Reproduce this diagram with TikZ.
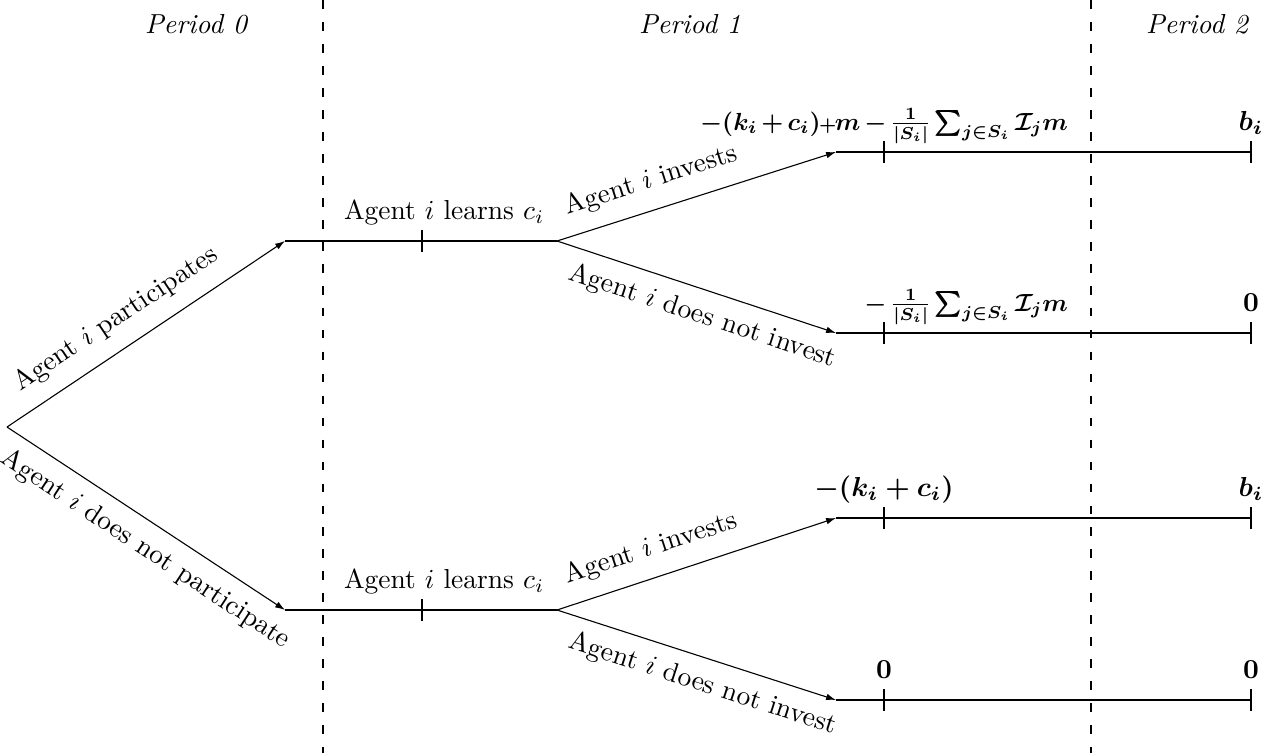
\documentclass[tikz,border=0pt]{standalone}
\usepackage{amsmath,amssymb,graphicx}
\usetikzlibrary{arrows.meta}
\newcommand{\bmath}[1]{{\boldmath$#1$}}
\newcommand{\bsum}{\mathop{\pmb{\sum}}}
\begin{document}
\begin{tikzpicture}[x=0.364pt,y=-0.364pt,
  edge/.style={-{Latex[length=3.6pt,width=2.4pt]}},
  lab/.style={anchor=south, inner sep=0pt, outer sep=0pt, text depth=8pt},
  slab/.style={anchor=south, inner sep=0pt, outer sep=0pt, text depth=8pt, sloped},
  slabb/.style={anchor=north, inner sep=0pt, outer sep=0pt, text height=12pt, sloped},
  period/.style={anchor=base, inner sep=0pt, outer sep=0pt, font=\itshape},
  divider/.style={dash pattern=on 3.2pt off 4.8pt}]
\useasboundingbox (0,0) rectangle (1285,753);
% period dividers
\coordinate (d1t) at (323,0);   \coordinate (d1b) at (323,753);
\coordinate (d2t) at (1091,0);  \coordinate (d2b) at (1091,753);
\draw[divider] (d1t) -- (d1b);
\draw[divider] (d2t) -- (d2b);
\node[period] (per0) at (196,33) {Period 0};
\node[period] (per1) at (690,33) {Period 1};
\node[period] (per2) at (1197,33) {Period 2};
% tree points
\coordinate (root) at (7,427);
\coordinate (P)  at (285,241);
\coordinate (NP) at (285,610);
\coordinate (PE) at (557,241);
\coordinate (NPE) at (557,610);
\coordinate (A1) at (836,152);
\coordinate (A2) at (836,333);
\coordinate (A3) at (836,518);
\coordinate (A4) at (836,700);
\coordinate (F1) at (1251,152);
\coordinate (F2) at (1251,333);
\coordinate (F3) at (1251,518);
\coordinate (F4) at (1251,700);
\coordinate (TP) at (422,241);
\coordinate (TNP) at (422,610);
\coordinate (T1) at (884,152);
\coordinate (T2) at (884,333);
\coordinate (T3) at (884,518);
\coordinate (T4) at (884,700);
% branches
\draw[edge] (root) -- node[slab, pos=0.45] {Agent $i$ participates} (P);
\draw[edge] (root) -- node[slabb, pos=0.55] {Agent $i$ does not participate} (NP);
\draw (P) -- node[lab, pos=0.585] {Agent $i$ learns $c_i$} (PE);
\draw (NP) -- node[lab, pos=0.585] {Agent $i$ learns $c_i$} (NPE);
\draw[edge] (PE) -- node[slab, pos=0.37] {Agent $i$ invests} (A1);
\draw[edge] (PE) -- node[slabb, pos=0.55] {Agent $i$ does not invest} (A2);
\draw[edge] (NPE) -- node[slab, pos=0.37] {Agent $i$ invests} (A3);
\draw[edge] (NPE) -- node[slabb, pos=0.55] {Agent $i$ does not invest} (A4);
\draw (A1) -- (F1);
\draw (A2) -- (F2);
\draw (A3) -- (F3);
\draw (A4) -- (F4);
% ticks
\draw ([yshift=4pt]TP) -- ([yshift=-4pt]TP);
\draw ([yshift=4pt]TNP) -- ([yshift=-4pt]TNP);
\draw ([yshift=4pt]T1) -- ([yshift=-4pt]T1);
\draw ([yshift=4pt]T2) -- ([yshift=-4pt]T2);
\draw ([yshift=4pt]T3) -- ([yshift=-4pt]T3);
\draw ([yshift=4pt]T4) -- ([yshift=-4pt]T4);
\draw ([yshift=4pt]F1) -- ([yshift=-4pt]F1);
\draw ([yshift=4pt]F2) -- ([yshift=-4pt]F2);
\draw ([yshift=4pt]F3) -- ([yshift=-4pt]F3);
\draw ([yshift=4pt]F4) -- ([yshift=-4pt]F4);
% payoffs
\node[lab] (p1) at (T1) {\scalebox{0.9}{\medmuskip=2.5mu\bmath{-(k_i+c_i)\mkern-1mu{\scriptstyle+}\mkern-1mu m-\frac{1}{|S_i|}\bsum_{j\in S_i}\mathcal{I}_jm}}};
\node[lab] (p2) at (T2) {\scalebox{0.9}{\medmuskip=2.5mu\bmath{\phantom{-(k_i+c_i)\mkern-1mu{\scriptstyle+}\mkern-1mu m}-\frac{1}{|S_i|}\bsum_{j\in S_i}\mathcal{I}_jm}}};
\node[lab] (p3) at (T3) {\bmath{-(k_i+c_i)}};
\node[lab] (p4) at (T4) {\bmath{0}};
\node[lab] (q1) at (F1) {\bmath{b_i}};
\node[lab] (q2) at (F2) {\bmath{0}};
\node[lab] (q3) at (F3) {\bmath{b_i}};
\node[lab] (q4) at (F4) {\bmath{0}};
\end{tikzpicture}
\end{document}
